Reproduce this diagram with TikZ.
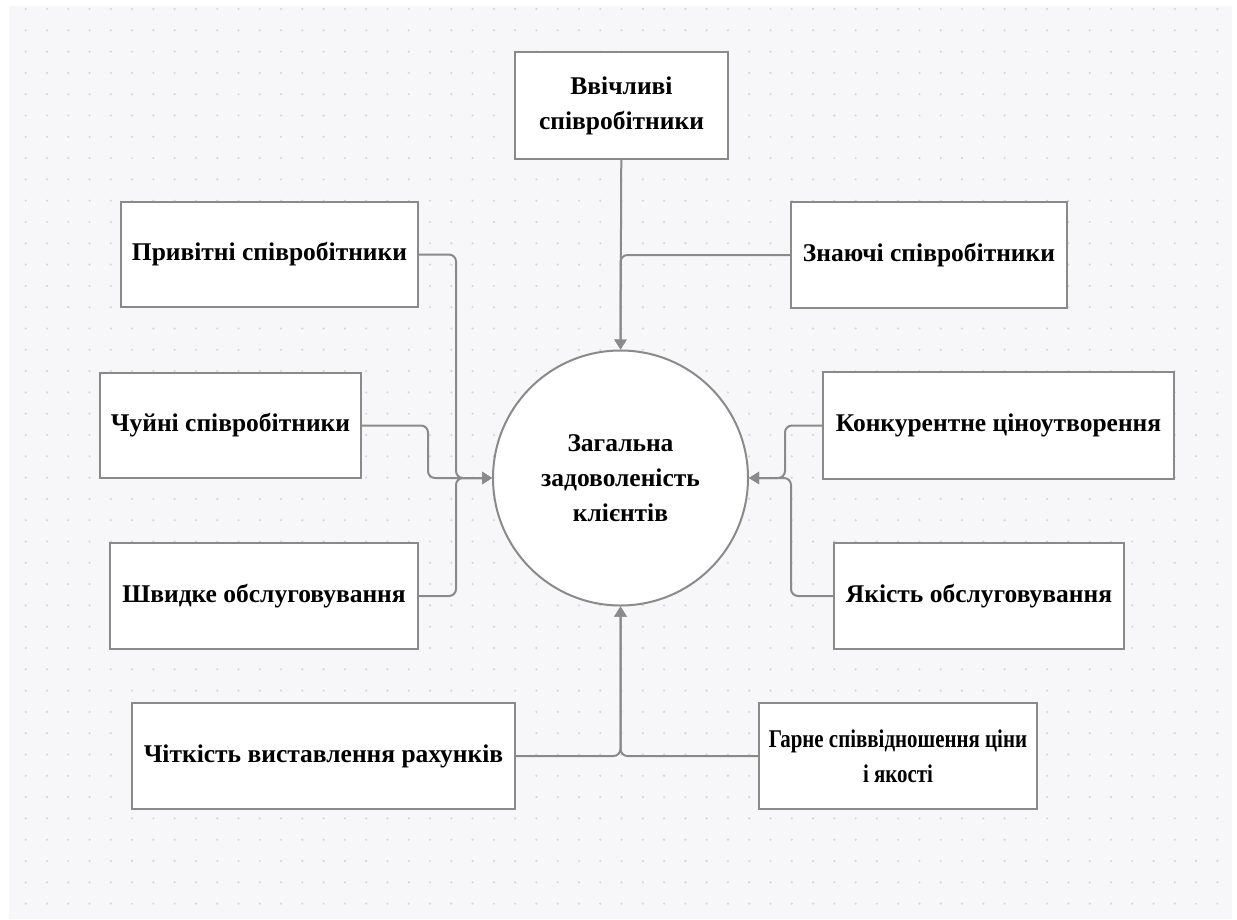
\documentclass[tikz,border=0pt]{standalone}
\usepackage{fontspec}
\setmainfont{Liberation Serif}
\newfontfamily\narrowserif[FakeStretch=0.82]{Liberation Serif}
\usetikzlibrary{arrows.meta}

\definecolor{canvas}{HTML}{F7F7F9}
\definecolor{dotgray}{HTML}{D6D6DA}
\definecolor{linegray}{HTML}{8A8A8A}

\tikzset{
  factor/.style={draw=linegray, line width=2pt, fill=white, align=center,
    font=\fontsize{25.5}{35}\selectfont\bfseries, inner sep=0pt},
  whole/.style={factor, circle, minimum size=255pt},
  link/.style={draw=linegray, line width=2pt, rounded corners=7pt,
    -{Triangle[length=10pt, width=12pt]}}
}

\begin{document}
\begin{tikzpicture}[x=1pt, y=-1pt]
    \useasboundingbox (0,0) rectangle (1237,919);
    % Dotted canvas
    \fill[canvas] (9,6) rectangle (1232,919);
    \foreach \i in {0,...,56}
      \foreach \j in {0,...,42}
        \fill[dotgray] (25.7+21.28*\i, 9+21.3*\j) circle (1.2pt);

    % Centre
    \node[whole] (total) at (620.5,478) {\raisebox{-4pt}{\parbox{200pt}{\centering Загальна\\задоволеність\\клієнтів}}};

    % Upper factors
    \node[factor, minimum width=213pt, minimum height=107pt] (polite) at (621.5,105.5) {Ввічливі\\співробітники};
    \node[factor, minimum width=297pt, minimum height=105pt] (friendly) at (269.5,254.5) {Привітні співробітники};
    \node[factor, minimum width=276pt, minimum height=106pt] (skilled) at (929,255) {Знаючі співробітники};

    % Left factors
    \node[factor, minimum width=261pt, minimum height=105pt] (caring) at (230.5,425.5) {Чуйні співробітники};
    \node[factor, minimum width=308pt, minimum height=106pt] (fast) at (264,596) {Швидке обслуговування};

    % Right factors
    \node[factor, minimum width=351pt, minimum height=107pt] (pricing) at (998.5,425.5) {Конкурентне ціноутворення};
    \node[factor, minimum width=290pt, minimum height=106pt] (quality) at (979,596) {Якість обслуговування};

    % Lower factors
    \node[factor, minimum width=383pt, minimum height=106pt] (billing) at (323.5,756) {Чіткість виставлення рахунків};
    \node[factor, minimum width=278pt, minimum height=106pt, font=\fontsize{25.5}{35}\selectfont\narrowserif\bfseries] (value) at (898,756) {Гарне співвідношення ціни\\і якості};

    % Bus points
    \coordinate (lbus) at (456,478);
    \coordinate (lbusin) at (428,478);
    \coordinate (rbus) at (785,478);
    \coordinate (rbusout) at (791,478);

    % Connectors
    \draw[link] (polite) -- (total.north);
    \draw[link] (skilled.west) -| (total.north);
    \draw[link] (friendly.east) -| (lbus) -- (total.west);
    \draw[link] (caring.east) -| (lbusin) -- (total.west);
    \draw[link] (fast.east) -| (lbus) -- (total.west);
    \draw[link] (pricing.west) -| (rbus) -- (total.east);
    \draw[link] (quality.west) -| (rbusout) -- (total.east);
    \draw[link] (billing.east) -| (total.south);
    \draw[link] (value.west) -| (total.south);
\end{tikzpicture}
\end{document}
